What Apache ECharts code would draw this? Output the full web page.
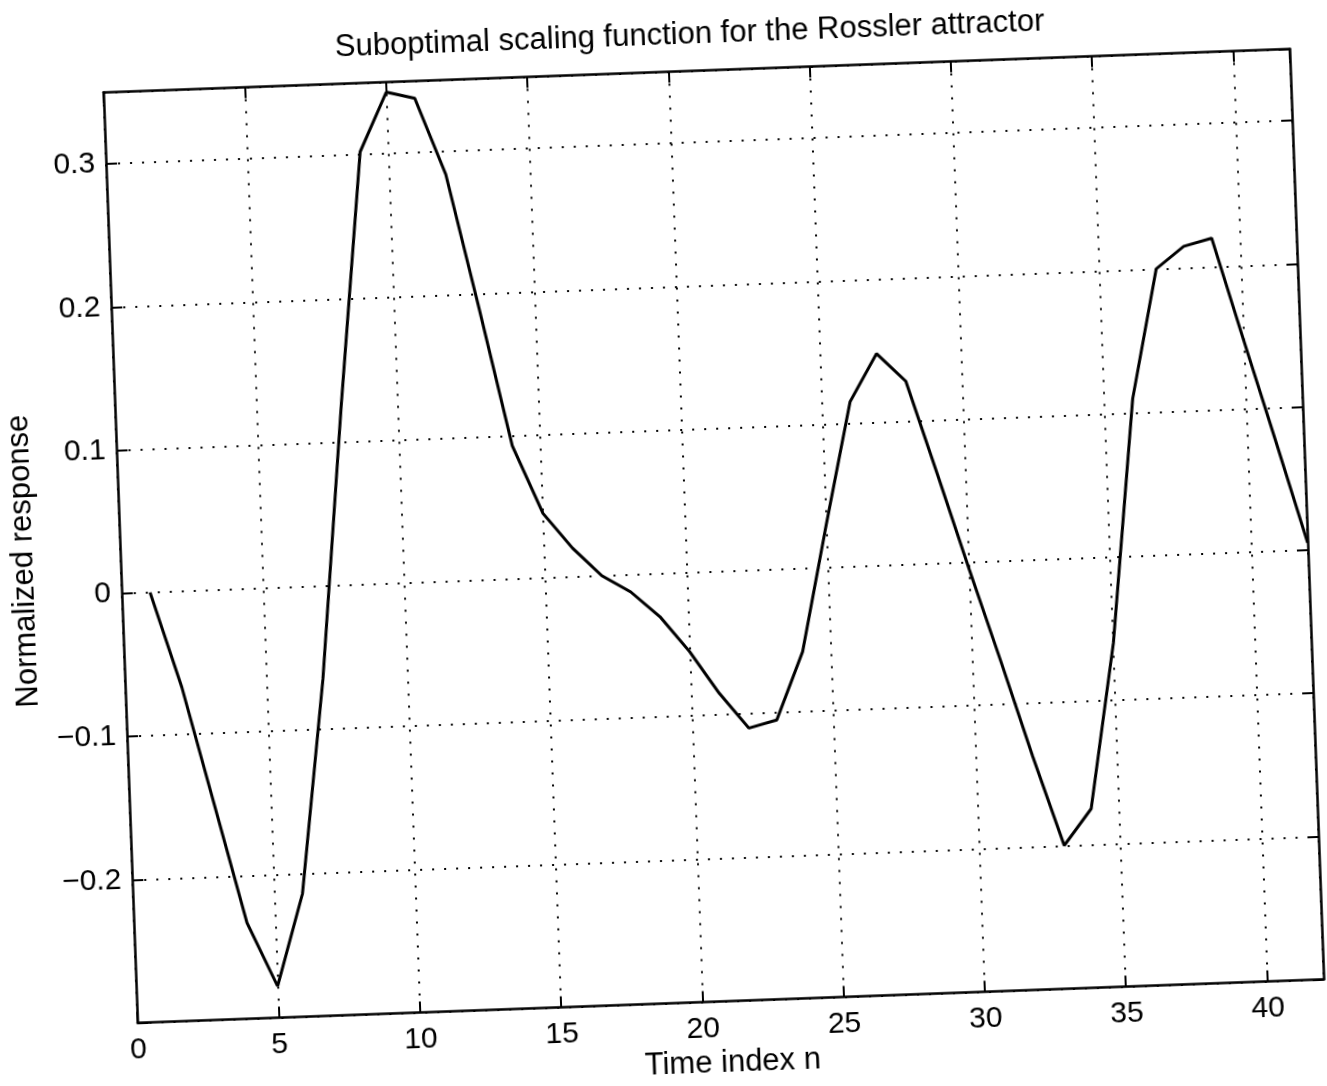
<!DOCTYPE html>
<html>
<head>
<meta charset="utf-8">
<title>Suboptimal scaling function for the Rossler attractor</title>
<script src="https://cdn.jsdelivr.net/npm/echarts@6/dist/echarts.min.js"></script>
<style>
  html, body { margin: 0; padding: 0; background: #ffffff; overflow: hidden; }
  #chart {
    width: 1327px; height: 1086px;
    transform: rotate(-2.1deg);
    transform-origin: 711px 536px;
  }
</style>
</head>
<body>
<div id="chart"></div>
<script>
// Time index of each sample
const timeIndex = [1, 2, 3, 4, 5, 6, 7, 8, 9, 10, 11, 12, 13, 14, 15, 16, 17, 18, 19, 20, 21,
                   22, 23, 24, 25, 26, 27, 28, 29, 30, 31, 32, 33, 34, 35, 36, 37, 38, 39, 40, 41, 42];
// Normalized response of the scaling function
const response = [0, -0.067, -0.15, -0.233, -0.278, -0.214, -0.065, 0.125, 0.302, 0.343, 0.338,
                  0.284, 0.19, 0.093, 0.045, 0.02, 0.0, -0.012, -0.03, -0.055, -0.085,
                  -0.11, -0.105, -0.058, 0.03, 0.115, 0.148, 0.128, 0.062, -0.005, -0.07,
                  -0.137, -0.2, -0.175, -0.06, 0.11, 0.2, 0.215, 0.22, 0.148, 0.077, 0.005];
// Axis ranges and tick steps
const xRange = [0, 42];
const xStep = 5;
const yRange = [-0.3, 0.35];
const yStep = 0.1;

const FONT = '"Liberation Sans", Arial, Helvetica, sans-serif';
const INK = '#000000';

function yLabel(v) {
  if (Math.abs(v - yRange[0]) < 1e-9) return '';
  const r = Math.round(v * 10) / 10;
  if (r === 0) return '0';
  return (r < 0 ? '\u2212' : '') + Math.abs(r).toString();
}

const dotted = { color: INK, width: 2, type: [2, 10] };
const tickStyle = { show: true, inside: true, length: 11, lineStyle: { color: INK, width: 2 } };
const edgeStyle = { show: true, onZero: false, lineStyle: { color: INK, width: 2.5 } };

const chart = echarts.init(document.getElementById('chart'), null, { renderer: 'canvas' });
chart.setOption({
  backgroundColor: '#ffffff',
  animation: false,
  title: {
    text: 'Suboptimal scaling function for the Rossler attractor',
    left: 703, top: 14, textAlign: 'center',
    textStyle: { fontFamily: FONT, fontSize: 31, fontWeight: 'normal', color: INK }
  },
  grid: { left: 115, top: 70.5, right: 20, bottom: 84.5, containLabel: false },
  xAxis: [{
    type: 'value', min: xRange[0], max: xRange[1], interval: xStep,
    name: 'Time index n', nameLocation: 'middle', nameGap: 46,
    nameTextStyle: { fontFamily: FONT, fontSize: 31, color: INK },
    axisLine: edgeStyle, axisTick: tickStyle,
    axisLabel: { fontFamily: FONT, fontSize: 30, color: INK, margin: 12, showMaxLabel: false },
    splitLine: { show: true, lineStyle: dotted }
  }, {
    type: 'value', position: 'top', min: xRange[0], max: xRange[1], interval: xStep,
    axisLine: edgeStyle, axisTick: tickStyle, axisLabel: { show: false }, splitLine: { show: false }
  }],
  yAxis: [{
    type: 'value', min: yRange[0], max: yRange[1], interval: yStep,
    name: 'Normalized response', nameLocation: 'middle', nameGap: 68, nameRotate: 90,
    nameTextStyle: { fontFamily: FONT, fontSize: 31, color: INK },
    axisLine: edgeStyle, axisTick: tickStyle,
    axisLabel: { fontFamily: FONT, fontSize: 30, color: INK, margin: 11, formatter: yLabel, showMaxLabel: false },
    splitLine: { show: true, lineStyle: dotted }
  }, {
    type: 'value', position: 'right', min: yRange[0], max: yRange[1], interval: yStep,
    axisLine: edgeStyle, axisTick: tickStyle, axisLabel: { show: false }, splitLine: { show: false }
  }],
  series: [{
    type: 'line',
    data: timeIndex.map((t, i) => [t, response[i]]),
    showSymbol: false, symbol: 'none',
    lineStyle: { color: INK, width: 3 },
    emphasis: { disabled: true }
  }]
});
</script>
</body>
</html>
